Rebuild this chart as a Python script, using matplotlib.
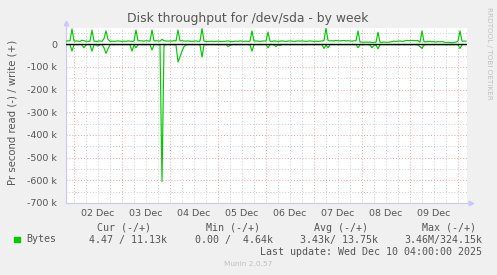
import numpy as np
import matplotlib
matplotlib.use("Agg")
import matplotlib.pyplot as plt
from matplotlib.ticker import FixedLocator, FuncFormatter

# hours since 02 Dec 00:00, one sample per hour (Dec 1 20:00 .. Dec 10 04:00)
hours = np.arange(-4, 197)

# write bytes/s in k (positive side)
write_k = [
    14, 15, 16, 68,
    14, 15, 14, 13, 18, 16, 14, 13, 14, 63, 14, 13, 14, 15, 13, 25, 59, 22, 13, 14, 13, 14, 15, 14,
    13, 14, 13, 15, 14, 13, 14, 63, 15, 16, 15, 14, 16, 15, 14, 63, 15, 16, 15, 14, 22, 16, 15, 14,
    15, 14, 16, 15, 63, 15, 16, 15, 14, 15, 14, 13, 14, 15, 13, 14, 69, 14, 13, 12, 13, 14, 12, 13,
    14, 13, 12, 13, 14, 15, 13, 12, 13, 14, 13, 15, 14, 13, 14, 13, 14, 59, 14, 15, 14, 13, 14, 15,
    14, 54, 14, 13, 15, 14, 13, 14, 15, 14, 13, 14, 15, 14, 13, 14, 15, 14, 15, 14, 13, 14, 15, 14,
    13, 14, 13, 14, 15, 16, 72, 17, 15, 16, 15, 17, 16, 15, 16, 17, 15, 16, 15, 14, 16, 15, 59, 10,
    10, 9, 10, 9, 10, 8, 9, 9, 53, 9, 9, 10, 9, 9, 10, 12, 14, 13, 14, 15, 13, 14, 17, 17,
    16, 17, 17, 16, 17, 9, 59, 12, 11, 12, 13, 11, 12, 10, 12, 11, 12, 10, 8, 9, 8, 7, 8, 10,
    14, 59, 14, 14, 14,
]

# read bytes/s in k (drawn on the negative side)
read_k = [
    1, 2, 1, 30,
    2, 1, 2, 1, 3, 15, 2, 1, 2, 30, 2, 3, 8, 2, 1, 15, 40, 20, 2, 1, 2, 1, 2, 1,
    2, 1, 2, 1, 2, 30, 2, 15, 2, 1, 2, 1, 2, 1, 2, 25, 2, 1, 2, 3, 605, 4, 2, 1,
    2, 1, 2, 3, 78, 55, 30, 10, 3, 2, 1, 2, 1, 2, 1, 3, 56, 2, 1, 2, 1, 2, 1, 2,
    1, 2, 1, 2, 1, 10, 5, 2, 1, 2, 1, 2, 1, 2, 1, 2, 3, 30, 2, 1, 2, 1, 2, 1,
    2, 15, 2, 1, 3, 10, 2, 5, 2, 1, 2, 1, 2, 1, 2, 1, 2, 1, 2, 1, 2, 1, 2, 1,
    2, 1, 2, 1, 2, 18, 4, 15, 2, 1, 2, 1, 2, 1, 2, 1, 2, 1, 2, 1, 2, 1, 15, 2,
    1, 2, 1, 2, 3, 15, 4, 3, 20, 2, 1, 2, 1, 2, 1, 2, 1, 2, 1, 2, 1, 2, 1, 2,
    1, 2, 1, 2, 3, 10, 18, 3, 2, 1, 2, 1, 2, 1, 2, 1, 2, 1, 2, 1, 2, 1, 2, 1,
    2, 18, 2, 1, 1,
]

day_labels = ["02 Dec", "03 Dec", "04 Dec", "05 Dec", "06 Dec", "07 Dec", "08 Dec", "09 Dec"]

legend_head = ["Cur (-/+)", "Min (-/+)", "Avg (-/+)", "Max (-/+)"]
legend_vals = ["4.47 / 11.13k", "0.00 /  4.64k", "3.43k/ 13.75k", "3.46M/324.15k"]

W, H = 497, 275
BG = "#f0f0f0"
TXT = "#555555"
AXC = "#c8c8ff"
GREEN = "#00cc00"


def fx(x):
    return x / W


def fy(y):
    return 1 - y / H


fig = plt.figure(figsize=(W / 100, H / 100), dpi=100, facecolor=BG)
ax = fig.add_axes([fx(66), fy(203), fx(467) - fx(66), fy(28) - fy(203)])
ax.set_facecolor("white")

write = np.array(write_k) * 1000
read = np.array(read_k) * 1000

ax.set_xlim(-4, 196.5)
ax.set_ylim(-700000, 72000)

# grid: gray minor, red major
for h in range(6, 197, 6):
    if h % 24:
        ax.axvline(h, color="#cccccc", lw=0.7, ls=(0, (1, 2)), zorder=1)
for h in range(0, 197, 24):
    ax.axvline(h, color="#f0a0a0", lw=0.7, ls=(0, (1, 2)), zorder=1)
for v in range(-650000, 72000, 100000):
    ax.axhline(v, color="#cccccc", lw=0.7, ls=(0, (1, 2)), zorder=1)
for v in range(-700000, 1, 100000):
    if v != 0:
        ax.axhline(v, color="#f0a0a0", lw=0.7, ls=(0, (1, 2)), zorder=1)

ax.plot(hours, write, color=GREEN, lw=0.85, zorder=3)
ax.plot(hours, -read, color=GREEN, lw=0.85, zorder=3)
ax.axhline(0, color="black", lw=1.0, zorder=4)

ax.yaxis.set_major_locator(FixedLocator(range(-700000, 1, 100000)))
ax.yaxis.set_major_formatter(FuncFormatter(lambda v, p: "0" if v == 0 else "%d k" % (v / 1000)))
ax.xaxis.set_major_locator(FixedLocator([12 + 24 * i for i in range(len(day_labels))]))
ax.set_xticklabels(day_labels)
ax.tick_params(axis="both", length=0, labelsize=6.8, labelcolor=TXT)
ax.tick_params(axis="y", pad=6.5)
ax.tick_params(axis="x", pad=4.5)

for s in ["top", "right"]:
    ax.spines[s].set_visible(False)
for s in ["left", "bottom"]:
    ax.spines[s].set_color(AXC)
    ax.spines[s].set_linewidth(0.8)

# axis arrows
ax.plot([0, 0], [1, 1.03], transform=ax.transAxes, color=AXC, lw=0.8, clip_on=False)
ax.plot([0], [1.03], marker="^", ms=3.2, color=AXC, transform=ax.transAxes, clip_on=False)
ax.plot([1, 1.01], [0, 0], transform=ax.transAxes, color=AXC, lw=0.8, clip_on=False)
ax.plot([1.01], [0], marker=">", ms=3.2, color=AXC, transform=ax.transAxes, clip_on=False)

fig.text(fx(248), fy(18.5), "Disk throughput for /dev/sda - by week",
         ha="center", va="center", fontsize=8.9, color=TXT)
fig.text(fx(12.5), fy(112), "Pr second read (-) / write (+)", rotation=90,
         ha="center", va="center", fontsize=7.3, color=TXT)
fig.text(fx(488.5), fy(53), "RRDTOOL / TOBI OETIKER", rotation=270,
         ha="center", va="center", fontsize=5.2, color="#c0c0c0")

mono = "DejaVu Sans Mono"
fig.patches.append(plt.Rectangle((fx(14), fy(242)), fx(6), 5 / H,
                                 transform=fig.transFigure, color=GREEN))
fig.text(fx(26), fy(239.5), "Bytes", ha="left", va="center",
         fontsize=7.2, family=mono, color=TXT)
for x, t in zip([151, 260, 368.3, 476], legend_head):
    fig.text(fx(x), fy(227.7), t, ha="right", va="center", fontsize=7.2, family=mono, color=TXT)
for x, t in zip([166.7, 272.7, 377.7, 482.3], legend_vals):
    fig.text(fx(x), fy(239.5), t, ha="right", va="center", fontsize=7.2, family=mono, color=TXT)
fig.text(fx(482.3), fy(251.7), "Last update: Wed Dec 10 04:00:00 2025",
         ha="right", va="center", fontsize=7.2, family=mono, color=TXT)
fig.text(fx(248), fy(264.5), "Munin 2.0.57", ha="center", va="center",
         fontsize=5.3, color="#c0c0c0")

fig.savefig("out.png", dpi=100, facecolor=BG)
